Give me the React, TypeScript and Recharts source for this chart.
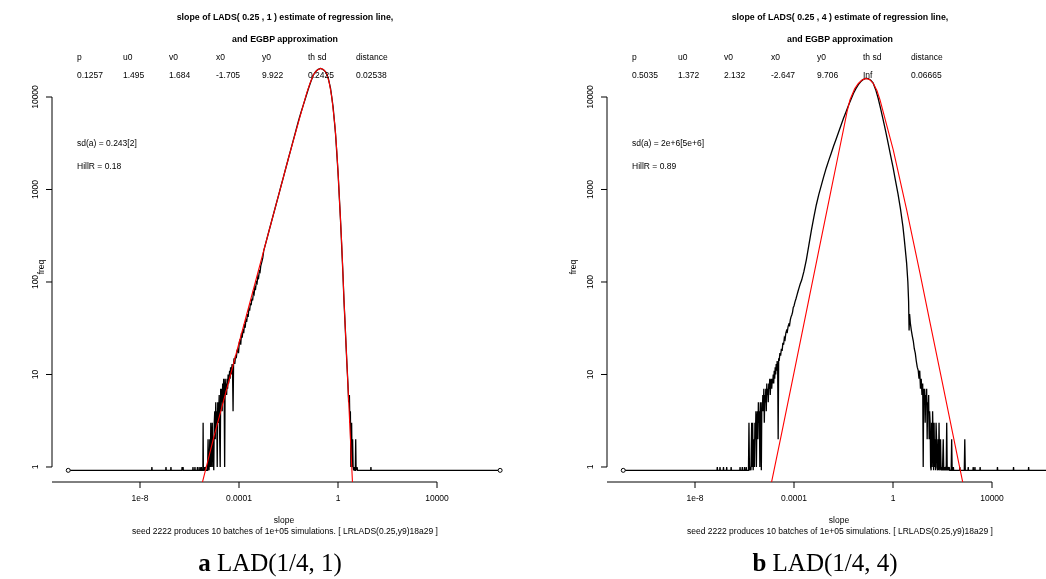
import React from 'react';
import { LineChart, Line, XAxis, YAxis, ReferenceLine } from 'recharts';

// level at which empty histogram bins are drawn
const Z = 0.92;

const xTicks = [1e-8, 1e-4, 1, 1e4];
const xTickLabels = ['1e-8', '0.0001', '1', '10000'];
const yTicks = [1, 10, 100, 1000, 10000];
const yTickLabels = ['1', '10', '100', '1000', '10000'];

const paramNames = ['p', 'u0', 'v0', 'x0', 'y0', 'th sd', 'distance'];
const paramsA = ['0.1257', '1.495', '1.684', '-1.705', '9.922', '0.2425', '0.02538'];
const paramsB = ['0.5035', '1.372', '2.132', '-2.647', '9.706', 'Inf', '0.06665'];

const titleA = 'slope of LADS( 0.25 , 1 ) estimate of regression line,';
const titleB = 'slope of LADS( 0.25 , 4 ) estimate of regression line,';
const title2 = 'and EGBP approximation';
const sdA = 'sd(a) = 0.243[2]';
const hillA = 'HillR = 0.18';
const sdB = 'sd(a) = 2e+6[5e+6]';
const hillB = 'HillR = 0.89';
const xLabel = 'slope';
const yLabel = 'freq';
const subtitle = 'seed 2222 produces 10 batches of 1e+05 simulations. [ LRLADS(0.25,y9)18a29 ]';
const captionA = ['a', 'LAD(1/4, 1)'];
const captionB = ['b', 'LAD(1/4, 4)'];

// log10(slope) of the smallest and largest simulated slope (open circles)
const endLogs = [-10.9, 6.55];

// [log10(slope), freq] — histogram of simulated slopes, panel a
const blackA: [number, number][] = [
  [-10.9, Z],
  [-7.53, Z], [-7.52, 1], [-7.51, Z],
  [-6.96, Z], [-6.95, 1], [-6.94, Z],
  [-6.76, Z], [-6.75, 1], [-6.74, Z],
  [-6.31, Z], [-6.3, 1], [-6.28, Z], [-6.26, 1], [-6.25, Z],
  [-5.87, Z], [-5.86, 1], [-5.85, Z],
  [-5.79, Z], [-5.78, 1], [-5.77, Z],
  [-5.69, Z], [-5.68, 1], [-5.67, Z], [-5.66, 1], [-5.65, Z],
  [-5.59, Z], [-5.58, 1], [-5.57, Z],
  [-5.53, Z], [-5.52, 1], [-5.51, Z],
  [-5.46, Z], [-5.45, 3], [-5.44, Z],
  [-5.41, Z], [-5.4, 1], [-5.38, Z], [-5.35, 1], [-5.33, Z],
  [-5.27, Z], [-5.25, 2], [-5.23, 1], [-5.21, Z], [-5.18, 2], [-5.16, 1], [-5.14, 3], [-5.12, 1],
  [-5.1, 2], [-5.08, 3], [-5.06, 1], [-5.04, 2], [-5.02, Z], [-5.0, 3], [-4.98, 4], [-4.96, 2],
  [-4.94, 5], [-4.92, 3], [-4.9, 4], [-4.88, 1], [-4.86, 5], [-4.84, 3], [-4.82, 4], [-4.8, 6],
  [-4.78, 2], [-4.76, 1], [-4.74, 7], [-4.72, 5], [-4.7, 7], [-4.68, 4], [-4.66, 8], [-4.64, 5],
  [-4.62, 9], [-4.6, 6], [-4.58, 1], [-4.56, 9], [-4.54, 7], [-4.52, 8], [-4.5, 6], [-4.48, 9],
  [-4.46, 7], [-4.44, 10], [-4.42, 8], [-4.4, 9], [-4.38, 11], [-4.36, 9], [-4.34, 12], [-4.32, 10],
  [-4.3, 11], [-4.28, 13], [-4.26, 10], [-4.24, 4], [-4.22, 13], [-4.2, 15], [-4.17, 13], [-4.14, 16],
  [-4.11, 15], [-4.08, 18], [-4.05, 19], [-4.02, 17], [-3.99, 22], [-3.96, 24], [-3.93, 21], [-3.9, 28],
  [-3.87, 25], [-3.84, 31], [-3.81, 28], [-3.78, 35], [-3.75, 32], [-3.72, 40], [-3.69, 37], [-3.66, 45],
  [-3.63, 42], [-3.6, 52], [-3.57, 49], [-3.54, 59], [-3.51, 56], [-3.48, 66], [-3.45, 63], [-3.42, 77],
  [-3.39, 74], [-3.36, 88], [-3.33, 85], [-3.3, 100], [-3.27, 97], [-3.24, 115], [-3.21, 111], [-3.18, 131],
  [-3.15, 128], [-3.12, 150], [-3.08, 164], [-3.04, 182], [-3.0, 219],
  [-2.9, 275], [-2.8, 347], [-2.7, 437], [-2.6, 550], [-2.5, 692], [-2.4, 871], [-2.3, 1097], [-2.2, 1380],
  [-2.1, 1740], [-2.0, 2190], [-1.9, 2750], [-1.8, 3460], [-1.7, 4360], [-1.6, 5480], [-1.5, 6750],
  [-1.4, 8220], [-1.3, 10000], [-1.2, 12200], [-1.1, 14600], [-1.0, 17200], [-0.9, 18900], [-0.8, 19900],
  [-0.7, 20400], [-0.6, 19800], [-0.5, 18700], [-0.4, 16300], [-0.3, 12300], [-0.2, 7900], [-0.1, 4000],
  [0.0, 1550], [0.1, 473], [0.2, 121], [0.24, 64], [0.28, 38], [0.32, 22], [0.36, 13], [0.4, 8],
  [0.43, 5], [0.46, 6], [0.48, 3], [0.5, 4], [0.52, 1], [0.54, 2], [0.55, 3], [0.57, 1], [0.59, 2],
  [0.61, 1], [0.63, Z], [0.66, 1], [0.68, Z], [0.7, Z], [0.715, 2], [0.73, Z], [0.77, 1], [0.79, Z],
  [1.32, Z], [1.33, 1], [1.34, Z],
  [6.55, Z],
];

// [log10(slope), freq] — EGBP approximation, panel a
const redA: [number, number][] = [
  [-5.48, 0.68], [-5.0, 2.2], [-4.5, 6.9], [-4.0, 21.9], [-3.5, 69], [-3.0, 219], [-2.5, 692],
  [-2.0, 2190], [-1.535, 6120], [-1.4, 8220], [-1.265, 11000], [-1.13, 14100], [-1.0, 17300],
  [-0.85, 19500], [-0.7, 20400], [-0.58, 19700], [-0.457, 18000], [-0.35, 14100], [-0.255, 10100],
  [-0.19, 7080], [-0.121, 4780], [-0.05, 2630], [0.012, 1370], [0.08, 600], [0.149, 262],
  [0.242, 64], [0.35, 15], [0.45, 4], [0.52, 1.6], [0.59, 0.63],
];

// [log10(slope), freq] — histogram of simulated slopes, panel b
const blackB: [number, number][] = [
  [-10.9, Z],
  [-7.11, Z], [-7.1, 1], [-7.09, Z],
  [-7.0, Z], [-6.99, 1], [-6.98, Z],
  [-6.86, Z], [-6.85, 1], [-6.84, Z],
  [-6.73, Z], [-6.72, 1], [-6.71, Z],
  [-6.55, Z], [-6.54, 1], [-6.53, Z],
  [-6.19, Z], [-6.18, 1], [-6.17, Z],
  [-6.1, Z], [-6.09, 1], [-6.08, Z],
  [-6.01, Z], [-6.0, 1], [-5.99, Z],
  [-5.94, Z], [-5.93, 1], [-5.92, Z],
  [-5.84, Z], [-5.82, 3], [-5.8, Z], [-5.77, 1], [-5.74, Z], [-5.71, 3], [-5.69, 1], [-5.67, 3],
  [-5.65, Z], [-5.62, 2], [-5.6, 1], [-5.58, 3], [-5.56, 2], [-5.54, 4], [-5.52, 1], [-5.5, 3],
  [-5.48, 4], [-5.46, 2], [-5.44, 5], [-5.42, 3], [-5.4, 4], [-5.38, 1], [-5.36, 5], [-5.34, 3],
  [-5.32, Z], [-5.3, 5], [-5.28, 4], [-5.26, 6], [-5.24, 4], [-5.22, 7], [-5.2, 3], [-5.18, 6],
  [-5.16, 5], [-5.14, 7], [-5.12, 4], [-5.1, 8], [-5.08, 6], [-5.06, 7], [-5.04, 5], [-5.02, 8],
  [-5.0, 7], [-4.98, 9], [-4.96, 6], [-4.94, 8], [-4.92, 9], [-4.9, 7], [-4.88, 9], [-4.86, 8],
  [-4.84, 10], [-4.82, 8], [-4.8, 11], [-4.78, 9], [-4.76, 12], [-4.74, 10], [-4.72, 13], [-4.7, 11],
  [-4.68, 14], [-4.66, 12], [-4.64, 2], [-4.62, 15], [-4.6, 14], [-4.57, 17], [-4.54, 16], [-4.51, 19],
  [-4.48, 18], [-4.45, 22], [-4.42, 21], [-4.39, 25], [-4.36, 24], [-4.33, 28], [-4.3, 30], [-4.27, 29],
  [-4.24, 33], [-4.21, 35], [-4.18, 34], [-4.15, 39], [-4.12, 42], [-4.09, 44], [-4.06, 47], [-4.03, 53],
  [-4.0, 55], [-3.96, 61], [-3.92, 66], [-3.88, 72], [-3.84, 79], [-3.8, 86], [-3.75, 95], [-3.69, 105],
  [-3.6, 130], [-3.5, 175], [-3.4, 250], [-3.3, 360], [-3.2, 500], [-3.1, 680], [-3.0, 880], [-2.9, 1100],
  [-2.8, 1380], [-2.7, 1700], [-2.6, 2050], [-2.5, 2450], [-2.4, 2950], [-2.3, 3500], [-2.2, 4150],
  [-2.1, 4950], [-2.0, 5900], [-1.9, 6900], [-1.8, 8100], [-1.7, 9400], [-1.6, 10900], [-1.5, 12300],
  [-1.4, 13600], [-1.3, 14700], [-1.2, 15500], [-1.1, 15900], [-1.0, 15800], [-0.9, 15200], [-0.8, 14100],
  [-0.7, 12000], [-0.6, 9700], [-0.5, 7500], [-0.4, 5700], [-0.3, 4300], [-0.2, 3200], [-0.1, 2350],
  [0.0, 1750], [0.1, 1250], [0.2, 900], [0.3, 620], [0.4, 400], [0.45, 300], [0.5, 220], [0.55, 160],
  [0.6, 100], [0.63, 62], [0.65, 30], [0.67, 45], [0.7, 36], [0.74, 30], [0.78, 26], [0.82, 23],
  [0.86, 19], [0.9, 17], [0.94, 14], [0.98, 12], [1.02, 11], [1.05, 9], [1.08, 11], [1.11, 7],
  [1.14, 9], [1.17, 6], [1.2, 8], [1.22, 1], [1.24, 7], [1.26, 5], [1.28, 7], [1.3, 3], [1.32, 6],
  [1.34, 5], [1.36, 7], [1.38, 2], [1.4, 5], [1.42, 4], [1.44, 6], [1.46, 2], [1.48, 4], [1.5, 3],
  [1.52, 1], [1.54, Z], [1.56, 3], [1.58, 1], [1.6, 4], [1.62, 2], [1.64, Z], [1.66, 3], [1.68, 1],
  [1.7, 2], [1.72, Z], [1.74, 3], [1.76, 2], [1.78, 1], [1.8, Z], [1.82, 2], [1.84, Z], [1.86, 3],
  [1.88, 1], [1.9, Z], [1.92, 2], [1.94, 1], [1.96, Z], [1.98, 1], [2.0, Z], [2.03, 2], [2.05, Z],
  [2.08, 1], [2.1, Z], [2.13, 1], [2.15, Z], [2.17, 3], [2.19, Z], [2.22, 1], [2.24, Z], [2.27, 1],
  [2.29, Z], [2.35, Z], [2.37, 2], [2.39, Z], [2.43, Z], [2.44, 1], [2.45, Z],
  [2.69, Z], [2.7, 1], [2.71, Z], [2.88, Z], [2.9, 2], [2.92, Z], [3.03, Z], [3.04, 1], [3.05, Z],
  [3.23, Z], [3.24, 1], [3.25, Z], [3.3, Z], [3.31, 1], [3.32, Z], [3.51, Z], [3.52, 1], [3.53, Z],
  [4.21, Z], [4.22, 1], [4.23, Z], [4.86, Z], [4.87, 1], [4.88, Z], [5.47, Z], [5.48, 1], [5.49, Z],
  [6.55, Z],
];

// [log10(slope), freq] — EGBP approximation, panel b
const redB: [number, number][] = [
  [-4.92, 0.66], [-4.5, 2.31], [-4.0, 10.5], [-3.5, 47.9], [-3.0, 218], [-2.5, 991], [-2.2, 2450],
  [-2.0, 4470], [-1.85, 7080], [-1.737, 9330], [-1.55, 12300], [-1.401, 14000], [-1.25, 15300],
  [-1.091, 15900], [-0.95, 15500], [-0.796, 14000], [-0.65, 11750], [-0.525, 9290], [-0.25, 4900],
  [0.012, 2670], [0.554, 600], [1.091, 124], [1.5, 36], [2.0, 8], [2.5, 1.77], [2.85, 0.62],
];

// ---- layout ----
const PANEL_W = 520;
const H = 579;
const X_DOMAIN: [number, number] = [Math.pow(10, -11.556), Math.pow(10, 7.232)];
const Y_DOMAIN: [number, number] = [Math.pow(10, -0.1622), Math.pow(10, 4.4865)];
const FONT = '"Liberation Sans", Arial, Helvetica, sans-serif';
const FS = 8.5;
const paramX = [77, 123, 169, 216, 262, 308, 356];
const GRAY_AA: React.CSSProperties = { willChange: 'transform' };

const rows = (arr: [number, number][]) => arr.map(([lx, f]) => ({ x: Math.pow(10, lx), y: f }));

const idxOf = (list: number[], v: number) =>
  list.findIndex((t) => Math.abs(Math.log10(t) - Math.log10(v)) < 1e-6);

const XTick = (props: any) => {
  const { x, y, payload } = props;
  const i = idxOf(xTicks, payload.value);
  return (
    <text x={x} y={y + 11} textAnchor="middle" fontSize={FS} fontFamily={FONT} fill="#000">
      {i >= 0 ? xTickLabels[i] : ''}
    </text>
  );
};

const YTick = (props: any) => {
  const { x, y, payload } = props;
  const i = idxOf(yTicks, payload.value);
  return (
    <text
      transform={`translate(${x - 9},${y}) rotate(-90)`}
      textAnchor="middle"
      dy="0.35em"
      fontSize={FS}
      fontFamily={FONT}
      fill="#000"
    >
      {i >= 0 ? yTickLabels[i] : ''}
    </text>
  );
};

type PanelProps = {
  left: number;
  black: [number, number][];
  red: [number, number][];
  params: string[];
  title: string;
  sd: string;
  hill: string;
  caption: string[];
  yLabelX: number;
};

const Panel = ({ left, black, red, params, title, sd, hill, caption, yLabelX }: PanelProps) => {
  const endRows = endLogs.map((lx) => ({ x: Math.pow(10, lx), y: Z }));
  return (
    <div style={{ position: 'absolute', left, top: 0, width: PANEL_W, height: H, ...GRAY_AA }}>
      <LineChart width={PANEL_W} height={H} margin={{ top: 52, right: 3, bottom: 67, left: 12 }}>
        <XAxis
          type="number"
          dataKey="x"
          scale="log"
          domain={X_DOMAIN}
          allowDataOverflow
          ticks={xTicks}
          interval={0}
          tick={<XTick />}
          axisLine={false}
          tickLine={{ stroke: '#000', strokeWidth: 1 }}
          tickSize={6}
          height={30}
        />
        <YAxis
          type="number"
          scale="log"
          domain={Y_DOMAIN}
          allowDataOverflow
          ticks={yTicks}
          interval={0}
          tick={<YTick />}
          axisLine={false}
          tickLine={{ stroke: '#000', strokeWidth: 1 }}
          tickSize={6}
          width={40}
        />
        <ReferenceLine
          segment={[{ x: X_DOMAIN[0], y: 1 }, { x: X_DOMAIN[0], y: 10000 }]}
          stroke="#000"
          strokeWidth={1}
          ifOverflow="visible"
        />
        <ReferenceLine
          segment={[{ x: X_DOMAIN[0], y: Y_DOMAIN[0] }, { x: 1e4, y: Y_DOMAIN[0] }]}
          stroke="#000"
          strokeWidth={1}
          ifOverflow="visible"
        />
        <Line
          data={rows(black)}
          dataKey="y"
          type="linear"
          stroke="#000"
          strokeWidth={1.3}
          dot={false}
          isAnimationActive={false}
        />
        <Line
          data={rows(red)}
          dataKey="y"
          type="linear"
          stroke="#ff0000"
          strokeWidth={1.1}
          dot={false}
          isAnimationActive={false}
        />
        <Line
          data={endRows}
          dataKey="y"
          stroke="none"
          dot={{ r: 2, fill: '#fff', stroke: '#000', strokeWidth: 1 }}
          isAnimationActive={false}
        />
      </LineChart>
      <svg
        width={PANEL_W}
        height={H}
        style={{ position: 'absolute', left: 0, top: 0, pointerEvents: 'none', ...GRAY_AA }}
      >
        <g fontFamily={FONT} fontSize={FS} fill="#000">
          <text x={285} y={17} dy="0.35em" textAnchor="middle" fontWeight="bold" fontSize={8.8}>
            {title}
          </text>
          <text x={285} y={39} dy="0.35em" textAnchor="middle" fontWeight="bold" fontSize={8.8}>
            {title2}
          </text>
          {paramNames.map((n, i) => (
            <text key={'n' + i} x={paramX[i]} y={57} dy="0.35em">
              {n}
            </text>
          ))}
          {params.map((v, i) => (
            <text key={'v' + i} x={paramX[i]} y={75} dy="0.35em">
              {v}
            </text>
          ))}
          <text x={77} y={143} dy="0.35em">{sd}</text>
          <text x={77} y={166} dy="0.35em">{hill}</text>
          <text transform={`translate(${yLabelX},267) rotate(-90)`} textAnchor="middle" dy="0.35em">
            {yLabel}
          </text>
          <text x={284} y={520} dy="0.35em" textAnchor="middle">{xLabel}</text>
          <text x={285} y={531} dy="0.35em" textAnchor="middle">{subtitle}</text>
        </g>
        <text
          x={270}
          y={562}
          dy="0.35em"
          textAnchor="middle"
          fontFamily='"Liberation Serif", "Times New Roman", serif'
          fontSize={25}
          fill="#000"
        >
          <tspan fontWeight="bold">{caption[0]}</tspan>
          <tspan> {caption[1]}</tspan>
        </text>
      </svg>
    </div>
  );
};

export default function App() {
  return (
    <div
      style={{
        position: 'absolute',
        left: 0,
        top: 0,
        width: 1046,
        height: 579,
        overflow: 'hidden',
        background: '#fff',
      }}
    >
      <Panel
        left={0}
        black={blackA}
        red={redA}
        params={paramsA}
        title={titleA}
        sd={sdA}
        hill={hillA}
        caption={captionA}
        yLabelX={41}
      />
      <Panel
        left={555}
        black={blackB}
        red={redB}
        params={paramsB}
        title={titleB}
        sd={sdB}
        hill={hillB}
        caption={captionB}
        yLabelX={18}
      />
    </div>
  );
}
